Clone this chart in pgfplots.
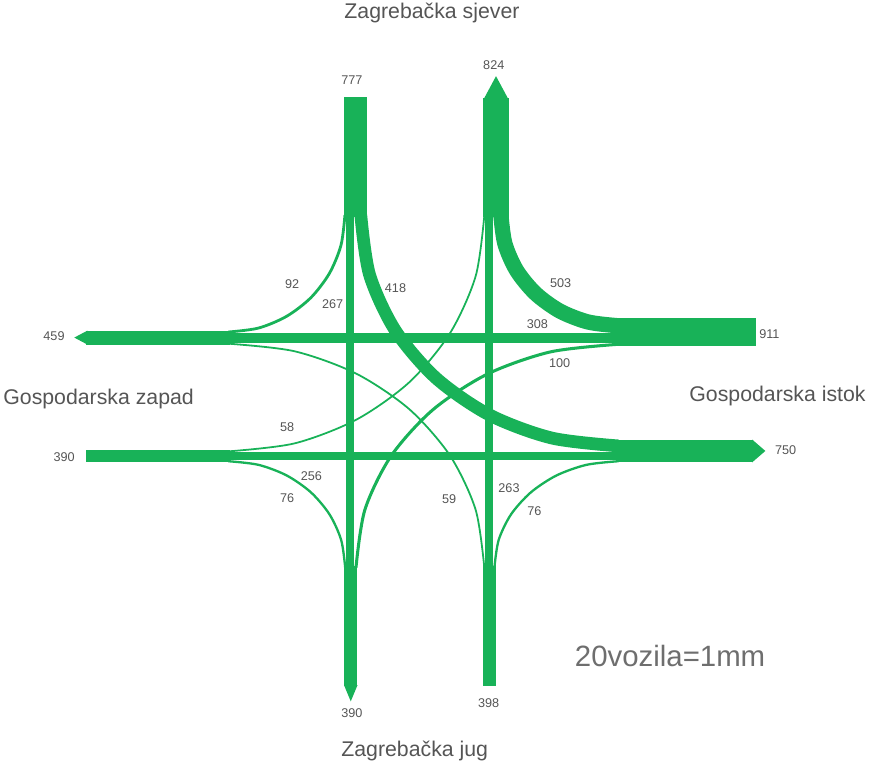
\documentclass[border=0pt]{standalone}
\usepackage{fontspec}
\setmainfont{Liberation Sans}
\usepackage{pgfplots}
\pgfplotsset{compat=1.18}
\definecolor{fgreen}{RGB}{24,178,88}
\definecolor{txtgray}{RGB}{85,85,85}
% line width in px (=pt here) for a flow of #1 vehicles
\pgfplotsset{flow/.style={draw=fgreen,line width={#1*0.03pt},line join=round}}
\tikzset{num/.style={font=\fontsize{12.5}{14}\selectfont,text=txtgray},
  street/.style={font=\fontsize{21}{25}\selectfont,text=txtgray}}
\begin{document}
\begin{tikzpicture}
\begin{axis}[x=1pt,y=1pt,xmin=0,xmax=869,ymin=0,ymax=760,y dir=reverse,hide axis,no markers]
% approach / exit arms (totals)
\addplot[flow=777] coordinates {(360.35,102) (360.35,220)};
\addplot[flow=824] coordinates {(499.2,103) (499.2,220)};
\addplot[flow=459] coordinates {(95,339) (237,339)};
\addplot[flow=911] coordinates {(618,333.45) (756,333.45)};
\addplot[flow=390] coordinates {(95,456.27) (237,456.27)};
\addplot[flow=750] coordinates {(618,450.87) (753,450.87)};
\addplot[flow=443] coordinates {(355.85,564) (355.85,683)};
\addplot[flow=398] coordinates {(492.75,564) (492.75,683)};
% arrow heads on exits
\addplot[fill=fgreen,draw=none] coordinates {(486.85,104) (511.55,104) (499.2,81)};
\addplot[fill=fgreen,draw=none] coordinates {(96,332.1) (96,345.9) (83,339)};
\addplot[fill=fgreen,draw=none] coordinates {(752,439.6) (752,462.1) (765,450.87)};
\addplot[fill=fgreen,draw=none] coordinates {(349.2,682) (362.5,682) (355.85,698)};
% straight movements
\addplot[flow=267] coordinates {(355.5,216) (355.5,568)};
\addplot[flow=263] coordinates {(492.5,216) (492.5,568)};
\addplot[flow=308] coordinates {(233,339.5) (622,339.5)};
\addplot[flow=256] coordinates {(233,456) (622,456)};
% turning movements
\addplot[flow=92,smooth] coordinates {(350.1,218) (346.2,247.9) (334.7,275.75) (316.4,299.7) (292.55,318) (264.8,329.6) (235,333.5)};
\addplot[flow=418,smooth] coordinates {(365.75,218) (374.4,277) (399.8,331.95) (440.2,379.15) (492.9,415.4) (554.15,438.1) (620,445.9)};
\addplot[flow=503,smooth] coordinates {(504,218) (507.95,246.3) (519.5,272.7) (538,295.3) (562,312.7) (590,323.6) (620,327.35)};
\addplot[flow=100,smooth] coordinates {(361,566) (369.8,508.9) (395.7,455.8) (436.9,410.2) (490.5,375.1) (553,353.1) (620,345.6)};
\addplot[flow=58,smooth] coordinates {(487.7,218) (479.1,278.4) (453.8,334.65) (413.7,383) (361.35,420) (300.4,443.4) (235,451.3)};
\addplot[flow=76,smooth] coordinates {(350.35,566) (346.4,538.8) (334.9,513.5) (316.6,491.8) (292.7,475.1) (264.9,464.6) (235,461)};
\addplot[flow=59,smooth] coordinates {(487.65,566) (479.05,508.8) (453.8,455.5) (413.65,409.7) (361.3,374.6) (300.4,352.5) (235,345)};
\addplot[flow=76,smooth] coordinates {(497.6,566) (501.8,538.8) (514,513.5) (533.5,491.8) (558.8,475.1) (588.3,464.6) (620,461)};
% texts
\node[street] at (436,19) {Zagrebačka sjever};
\node[street] at (419,747) {Zagrebačka jug};
\node[street] at (107,400) {Gospodarska zapad};
\node[street] at (777,397) {Gospodarska istok};
\node[font=\fontsize{29}{34}\selectfont,text=txtgray!85] at (671,653) {20vozila=1mm};
\node[num] at (357,85) {777};
\node[num] at (497,70) {824};
\node[num] at (63,338) {459};
\node[num] at (769,336) {911};
\node[num] at (73,457) {390};
\node[num] at (785,450) {750};
\node[num] at (357,710) {390};
\node[num] at (492,700) {398};
\node[num] at (298,286) {92};
\node[num] at (338,306) {267};
\node[num] at (400,290) {418};
\node[num] at (563,285) {503};
\node[num] at (540,326) {308};
\node[num] at (562,364) {100};
\node[num] at (293,427) {58};
\node[num] at (317,476) {256};
\node[num] at (293,497) {76};
\node[num] at (453,498) {59};
\node[num] at (512,488) {263};
\node[num] at (537,510) {76};
\end{axis}
\end{tikzpicture}
\end{document}
